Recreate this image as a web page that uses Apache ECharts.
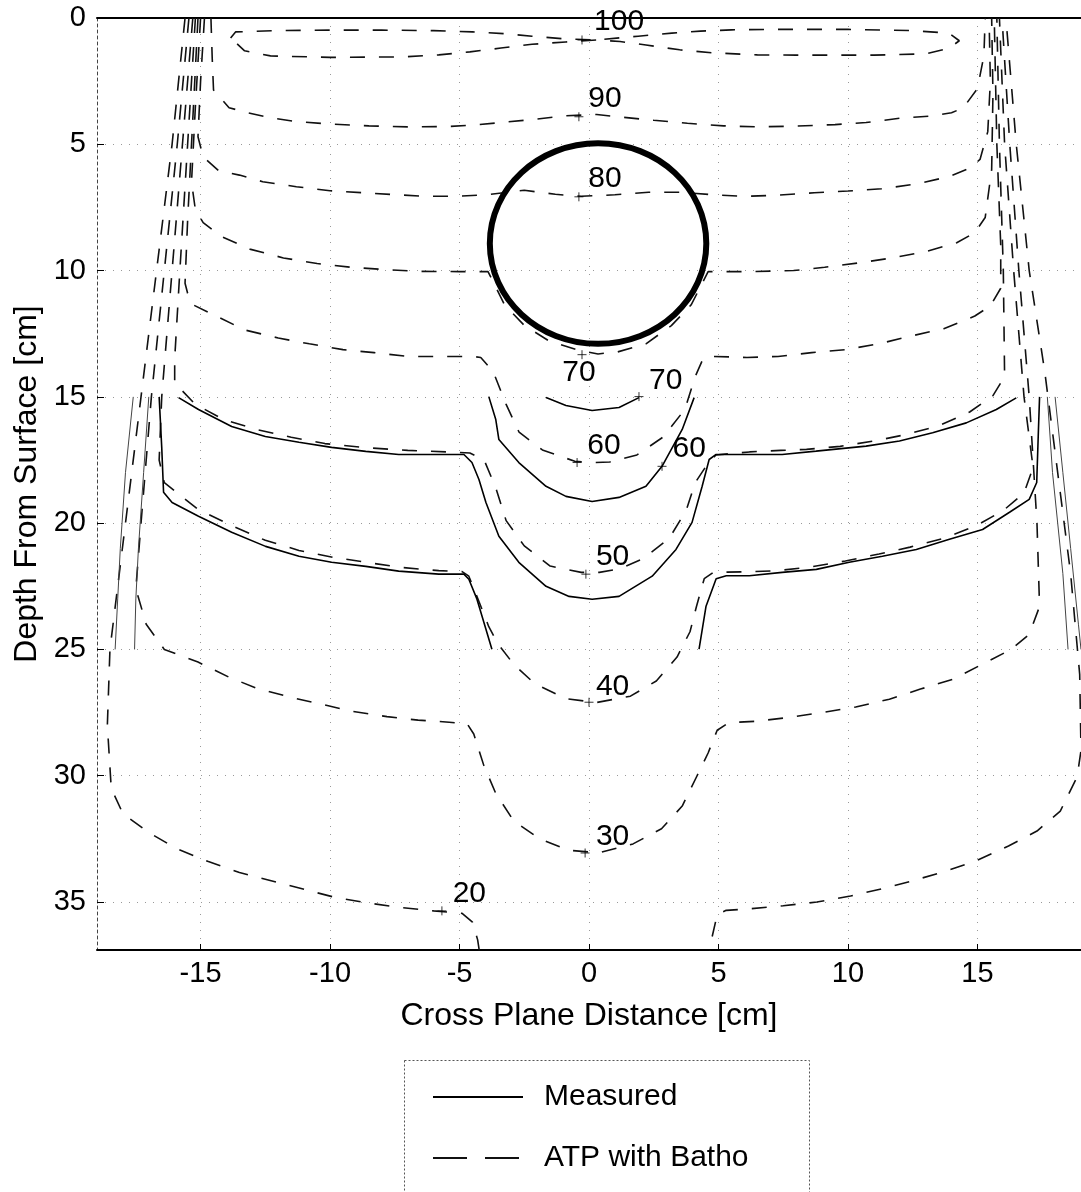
<!DOCTYPE html>
<html><head><meta charset="utf-8">
<script src="https://cdn.jsdelivr.net/npm/echarts@6/dist/echarts.min.js"></script>
<style>html,body{margin:0;padding:0;background:#fff}#c{width:1081px;height:1192px}</style>
</head><body><div id="c"></div>
<script>
const FONT = '"Liberation Sans", Arial, Helvetica, sans-serif';
const xTicks = [-15, -10, -5, 0, 5, 10, 15];
const yTicks = [0, 5, 10, 15, 20, 25, 30, 35];

// Measured isodose lines (solid) [x cm, depth cm]
const m70 = [[-1.66,15.03],[-0.89,15.34],[0.12,15.54],[1.16,15.42],[1.93,15.03]];
const m60 = [[-3.87,14.99],[-3.6,15.9],[-3.48,16.69],[-2.71,17.6],[-1.66,18.54],[-0.89,18.94],[0.12,19.14],[1.16,18.98],[2.2,18.54],[2.82,17.75],[3.6,16.29],[4.06,15.03]];
const m50 = [[-15.85,15.03],[-15.08,15.5],[-13.8,16.17],[-12.5,16.57],[-11.2,16.8],[-9.94,17.0],[-8.62,17.16],[-7.35,17.28],[-5.8,17.28],[-4.83,17.28],[-4.52,17.6],[-4.25,18.27],[-3.98,19.18],[-3.48,20.52],[-2.71,21.55],[-1.66,22.5],[-0.77,22.9],[0.12,23.01],[1.16,22.9],[2.44,22.1],[3.36,21.04],[3.98,19.97],[4.37,18.54],[4.64,17.48],[4.91,17.28],[6.19,17.28],[7.46,17.28],[8.77,17.15],[10.7,16.95],[11.99,16.75],[13.27,16.42],[14.57,16.03],[15.73,15.5],[16.5,15.04]];
const m40L = [[-16.6,15.0],[-16.5,17.0],[-16.43,18.78],[-16.1,19.18],[-15.08,19.73],[-13.8,20.36],[-12.49,20.92],[-11.2,21.31],[-9.94,21.55],[-8.62,21.71],[-7.35,21.9],[-5.8,22.02],[-4.83,22.02],[-4.64,22.22],[-4.33,23.0],[-3.98,24.2],[-3.75,24.99]];
const m40R = [[4.25,24.99],[4.52,23.29],[4.91,22.2],[5.3,22.08],[6.19,22.08],[7.46,21.95],[8.78,21.83],[10.05,21.55],[11.33,21.31],[12.64,21.04],[13.92,20.64],[15.2,20.25],[16.24,19.57],[17.0,19.06],[17.29,18.39],[17.35,16.5],[17.4,15.0]];
const m30L = [[-17.0,15],[-17.2,18],[-17.4,21],[-17.5,23],[-17.55,25]];
const m20L = [[-17.6,15],[-17.9,18],[-18.1,21],[-18.2,23],[-18.3,25]];
const m30R = [[17.7,15],[17.9,18],[18.1,20],[18.3,22],[18.5,25]];
const m20R = [[18.0,15],[18.3,18],[18.6,21],[18.9,24],[19.0,25]];

// ATP with Batho isodose lines (dashed)
const atp100 = [[-13.84,0.79],[-13.65,0.55],[-12,0.5],[-10,0.48],[-8,0.48],[-6,0.5],[-4.5,0.55],[-3.3,0.62],[-2.2,0.72],[-0.9,0.83],[0.3,0.87],[1.9,0.72],[3.2,0.6],[4.3,0.52],[5.5,0.47],[7,0.45],[10,0.45],[12.5,0.5],[13.9,0.6],[14.3,0.9],[13.9,1.2],[13.0,1.42],[11,1.47],[8,1.47],[6.5,1.46],[4.8,1.38],[3.5,1.26],[2.2,1.07],[1.2,0.93],[0.3,0.87],[-0.9,0.95],[-2.2,1.04],[-3.4,1.19],[-4.6,1.34],[-5.8,1.46],[-7.2,1.54],[-10,1.56],[-12.3,1.5],[-13.3,1.3],[-13.84,0.79]];
const atp90 = [[-14.6,0],[-14.55,1.6],[-14.5,2.85],[-13.9,3.55],[-13.2,3.75],[-12.3,3.95],[-11.3,4.1],[-10,4.2],[-8.5,4.27],[-7,4.31],[-5.5,4.3],[-4.6,4.25],[-3.4,4.14],[-2.0,4.0],[-0.9,3.87],[0.3,3.82],[1.3,3.93],[2.5,4.05],[3.8,4.17],[5.2,4.27],[6.5,4.31],[8.0,4.28],[9.5,4.22],[10.7,4.14],[12.0,3.97],[13.2,3.88],[14.0,3.75],[14.45,3.56],[15.0,2.8],[15.25,1.5],[15.3,0]];
const atp80 = [[-14.85,0],[-15.0,2.5],[-15.1,4.7],[-14.9,5.5],[-14.3,6.05],[-13.5,6.22],[-12.6,6.48],[-11.3,6.68],[-10.0,6.84],[-8.7,6.92],[-7.4,7.0],[-6.3,7.06],[-5.2,7.06],[-4.0,7.0],[-3.3,6.92],[-2.5,6.82],[-1.3,6.98],[-0.3,7.06],[1.0,7.0],[2.3,6.9],[3.5,6.9],[4.8,7.0],[6.0,7.06],[7.2,7.02],[8.7,6.92],[10.0,6.85],[11.3,6.76],[12.6,6.58],[13.9,6.28],[14.7,5.95],[15.1,5.6],[15.4,4.5],[15.5,2.5],[15.45,0]];
const atp70 = [[-15.0,0],[-15.2,3.5],[-15.35,6.5],[-15.2,7.6],[-14.9,8.1],[-14.2,8.65],[-13.1,9.15],[-11.8,9.5],[-10.5,9.72],[-9.2,9.87],[-7.9,9.96],[-6.5,10.03],[-5.0,10.04],[-3.9,10.04],[-3.26,11.36],[-2.49,12.18],[-1.52,12.8],[-0.42,13.15],[0.35,13.3],[1.11,13.22],[2.2,12.9],[3.18,12.18],[3.95,11.35],[4.6,10.04],[6.2,10.04],[7.9,10.0],[9.1,9.87],[10.4,9.7],[11.7,9.5],[13.0,9.25],[14.2,8.9],[14.9,8.5],[15.3,7.9],[15.55,6],[15.6,3],[15.55,0]];
const atp60 = [[-15.1,0],[-15.3,4],[-15.5,8],[-15.6,10.5],[-15.5,10.9],[-15.3,11.35],[-14.4,11.8],[-13.3,12.35],[-12.0,12.67],[-10.8,12.9],[-9.5,13.13],[-8.3,13.25],[-7.0,13.4],[-5.6,13.4],[-4.5,13.4],[-4.18,13.44],[-3.7,14.0],[-3.2,15.3],[-2.7,16.4],[-1.8,17.1],[-0.55,17.55],[0.2,17.6],[0.8,17.58],[1.85,17.3],[2.85,16.6],[3.7,15.5],[4.1,14.2],[4.4,13.5],[4.8,13.4],[6.1,13.44],[7.3,13.4],[8.6,13.25],[9.9,13.13],[11.2,12.9],[12.4,12.6],[13.7,12.3],[14.9,11.8],[15.5,11.4],[15.9,10.7],[15.9,9],[15.75,5],[15.65,0]];
const atp50 = [[-15.2,0],[-15.5,5],[-15.8,10],[-16.0,13.5],[-16.0,14.45],[-15.2,15.3],[-14.1,15.9],[-12.8,16.3],[-11.5,16.6],[-10.2,16.85],[-8.5,17.02],[-7.0,17.12],[-5.5,17.18],[-4.6,17.22],[-4.05,17.5],[-3.6,18.6],[-3.2,19.9],[-2.5,20.9],[-1.5,21.7],[-0.3,21.95],[0.4,21.95],[1.2,21.8],[2.1,21.4],[3.1,20.6],[3.75,19.5],[4.1,18.4],[4.55,17.7],[4.9,17.3],[6.2,17.18],[7.4,17.12],[8.4,17.08],[9.7,16.96],[11.0,16.75],[12.2,16.5],[13.5,16.15],[14.7,15.6],[15.6,14.95],[16.05,14.2],[16.0,10],[15.85,5],[15.75,0]];
const atp40 = [[-15.3,0],[-15.7,5],[-16.1,10],[-16.5,15],[-16.6,17.5],[-16.4,18.4],[-15.1,19.45],[-13.8,20.1],[-12.5,20.68],[-11.2,21.08],[-9.9,21.35],[-8.6,21.55],[-7.3,21.75],[-5.8,21.88],[-4.9,21.92],[-4.64,22.1],[-4.25,23.1],[-3.87,24.1],[-3.5,24.8],[-2.9,25.6],[-2.1,26.35],[-0.9,26.95],[0.3,27.1],[1.6,26.85],[2.6,26.25],[3.4,25.3],[3.9,24.3],[4.15,23.3],[4.45,22.2],[4.8,21.95],[6.3,21.92],[7.3,21.88],[8.6,21.73],[9.9,21.5],[11.2,21.22],[12.4,20.95],[13.7,20.6],[14.95,20.1],[16.0,19.5],[16.8,18.8],[17.15,17.8],[16.8,15],[16.4,10],[16.05,5],[15.85,0]];
const atp30 = [[-15.45,0],[-15.9,5],[-16.4,10],[-16.9,15],[-17.3,20],[-17.5,22.6],[-17.1,24.0],[-16.4,25.0],[-15.1,25.5],[-13.9,26.1],[-12.8,26.55],[-11.5,26.9],[-10.2,27.2],[-9.1,27.46],[-7.8,27.66],[-6.6,27.8],[-5.4,27.88],[-4.7,27.95],[-4.45,28.35],[-4.06,29.6],[-3.6,30.7],[-2.9,31.8],[-1.9,32.5],[-0.8,32.95],[0.4,33.05],[1.7,32.7],[2.8,32.1],[3.6,31.2],[4.15,30.05],[4.6,29.1],[4.95,28.2],[5.4,27.9],[6.5,27.84],[7.8,27.68],[9.1,27.48],[10.3,27.28],[11.6,26.97],[12.8,26.57],[14.05,26.18],[15.2,25.58],[16.3,25.0],[17.0,24.4],[17.4,23.3],[17.3,20],[17.0,15],[16.6,10],[16.25,5],[15.95,0]];
const atp20L = [[-15.6,0],[-16.1,5],[-16.7,10],[-17.3,15],[-17.9,20],[-18.5,25],[-18.6,28],[-18.45,30.5],[-18.0,31.5],[-17.0,32.25],[-15.9,32.9],[-14.7,33.4],[-13.5,33.83],[-12.2,34.18],[-11.0,34.5],[-9.8,34.82],[-8.6,35.03],[-7.4,35.2],[-6.0,35.35],[-4.9,35.45],[-4.5,35.8],[-4.3,36.5],[-4.15,37.5]];
const atp20R = [[4.6,37.5],[4.75,36.4],[4.95,35.5],[5.3,35.33],[6.2,35.27],[7.5,35.15],[8.8,35.0],[10.1,34.76],[11.3,34.48],[12.5,34.16],[13.8,33.77],[14.95,33.37],[16.2,32.78],[17.3,32.19],[18.2,31.4],[18.85,30.05],[19.0,29.0],[18.95,26],[18.6,22],[18.1,18],[17.6,14],[17.0,10],[16.5,5],[16.1,0]];

// Lung insert circle: [centre x, centre depth, radius x, radius depth] (cm)
const lungCircle = [0.35, 8.93, 4.18, 3.97];

// Contour labels [x, depth, text]
const contourLabels = [[1.16,0.14,'100'],[0.62,3.2,'90'],[0.62,6.37,'80'],[-0.39,14.06,'70'],[2.96,14.35,'70'],[0.58,16.92,'60'],[3.87,17.04,'60'],[0.91,21.33,'50'],[0.91,26.47,'40'],[0.91,32.4,'30'],[-4.62,34.68,'20']];
// Label anchor "+" marks
const labelMarks = [[-0.27,0.87],[-0.39,3.91],[-0.39,7.08],[-0.27,13.33],[1.93,14.99],[-0.46,17.6],[2.82,17.75],[-0.12,22.02],[0.0,27.09],[-0.15,33.06],[-5.68,35.35]];

const measuredMain = [m70, m60, m50, m40L, m40R];
const measuredPen = [m30L, m20L, m30R, m20R];
const atpLines = [atp100, atp90, atp80, atp70, atp60, atp50, atp40, atp30, atp20L, atp20R];

const series = [];
measuredMain.forEach(d => series.push({
  type: 'line', name: 'Measured', data: d, symbol: 'none', silent: true, z: 3,
  itemStyle: {color: '#000'},
  lineStyle: {color: '#000', width: 1.6, type: 'solid'}
}));
measuredPen.forEach(d => series.push({
  type: 'line', name: 'Measured', data: d, symbol: 'none', silent: true, z: 3,
  itemStyle: {color: '#000'},
  lineStyle: {color: '#444', width: 1, type: 'solid'}
}));
atpLines.forEach(d => series.push({
  type: 'line', name: 'ATP with Batho', data: d, symbol: 'none', silent: true, z: 2,
  itemStyle: {color: '#000'},
  lineStyle: {color: '#111', width: 1.6, type: [15, 14]}
}));
series.push({
  type: 'custom', name: 'lung', data: [lungCircle], silent: true, z: 6,
  renderItem: function (params, api) {
    const c = api.coord([api.value(0), api.value(1)]);
    const s = api.size([api.value(2), api.value(3)]);
    return {type: 'ellipse', shape: {cx: c[0], cy: c[1], rx: s[0], ry: s[1]},
      style: {fill: 'none', stroke: '#000', lineWidth: 6}};
  }
});
series.push({
  type: 'scatter', name: 'marks', data: labelMarks, silent: true, z: 7,
  symbol: 'path://M0,5L10,5M5,0L5,10', symbolSize: 9,
  itemStyle: {color: 'rgba(0,0,0,0)', borderColor: '#000', borderWidth: 1}
});
series.push({
  type: 'scatter', name: 'labels', silent: true, z: 8,
  data: contourLabels.map(d => ({value: [d[0], d[1]], name: d[2]})),
  symbolSize: 1, itemStyle: {color: 'rgba(0,0,0,0)'},
  label: {show: true, position: 'inside', formatter: '{b}', fontSize: 30, fontFamily: FONT,
    color: '#000', textBorderWidth: 0, textBorderColor: 'transparent', opacity: 1}
});

const chart = echarts.init(document.getElementById('c'), null, {renderer: 'canvas'});
chart.setOption({
  animation: false,
  backgroundColor: '#fff',
  grid: {left: 97, right: 0, top: 18, bottom: 242, containLabel: false},
  legend: {
    orient: 'vertical', left: 427, top: 1077, itemWidth: 90, itemHeight: 14, itemGap: 31,
    selectedMode: false,
    itemStyle: {opacity: 0},
    data: [{name: 'Measured'}, {name: 'ATP with Batho', lineStyle: {type: [34, 18]}}],
    textStyle: {fontSize: 30, fontFamily: FONT, color: '#000', padding: [0, 0, 0, 16]}
  },
  graphic: [{
    type: 'rect', left: 402, top: 1058, shape: {width: 405, height: 160}, silent: true,
    style: {fill: 'none', stroke: '#555', lineWidth: 1, lineDash: [2, 2]}
  }],
  xAxis: [{
    type: 'value', min: -19, max: 19, position: 'bottom',
    axisLine: {onZero: false, lineStyle: {color: '#000', width: 2}},
    axisTick: {inside: true, length: 6, customValues: xTicks, lineStyle: {color: '#000'}},
    axisLabel: {customValues: xTicks, fontSize: 29, fontFamily: FONT, color: '#000', margin: 9},
    splitLine: {show: true, lineStyle: {color: '#999', width: 1, type: [1, 7]}},
    name: 'Cross Plane Distance [cm]', nameLocation: 'middle', nameGap: 50,
    nameTextStyle: {fontSize: 32, fontFamily: FONT, color: '#000'}
  }, {
    type: 'value', min: -19, max: 19, position: 'top',
    axisLine: {onZero: false, lineStyle: {color: '#000', width: 2}},
    axisTick: {show: false}, axisLabel: {show: false}, splitLine: {show: false}
  }],
  yAxis: {
    type: 'value', inverse: true, min: 0, max: 36.9, position: 'left',
    axisLine: {onZero: false, lineStyle: {color: '#444', width: 1, type: [3, 3]}},
    axisTick: {inside: true, length: 7, customValues: yTicks, lineStyle: {color: '#000'}},
    axisLabel: {customValues: yTicks, fontSize: 29, fontFamily: FONT, color: '#000', margin: 11},
    splitLine: {show: true, lineStyle: {color: '#999', width: 1, type: [1, 7]}},
    name: 'Depth From Surface [cm]', nameLocation: 'middle', nameGap: 48, nameRotate: 90,
    nameTextStyle: {fontSize: 32, fontFamily: FONT, color: '#000'}
  },
  series: series
});
</script>
</body></html>
